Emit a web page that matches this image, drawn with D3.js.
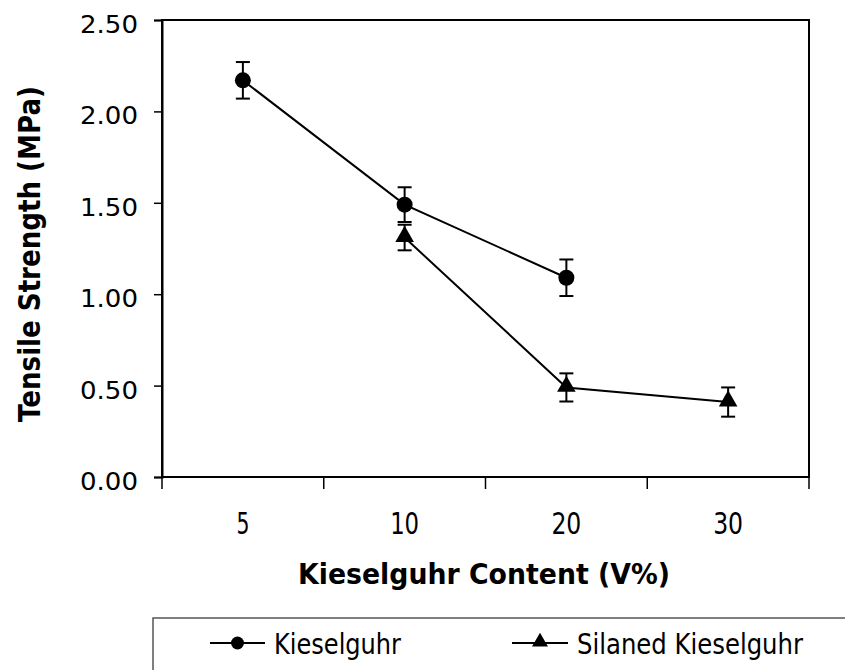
<!DOCTYPE html>
<html>
<head>
<meta charset="utf-8">
<script src="https://cdn.jsdelivr.net/npm/d3@7/dist/d3.min.js"></script>
<style>
  html, body { margin: 0; padding: 0; background: #fff; }
  svg { display: block; }
  text { font-family: "DejaVu Sans", Verdana, sans-serif; fill: #000; }
</style>
</head>
<body>
<svg id="chart" width="845" height="670"></svg>
<script>
// Kieselguhr content categories (V%)
const categories = ["5", "10", "20", "30"];
// Tensile strength (MPa), plain kieselguhr filler
const kieselguhr = [2.17, 1.49, 1.09, null];
const kieselguhrErr = [0.10, 0.095, 0.10, null];
// Tensile strength (MPa), silane-treated kieselguhr filler
const silaned = [null, 1.31, 0.49, 0.41];
const silanedErr = [null, 0.07, 0.077, 0.08];
// Value axis ticks
const yTicks = [0, 0.5, 1.0, 1.5, 2.0, 2.5];
// Condensed widths of category labels
const xLabelWidths = [13, 29, 30, 30];

const svg = d3.select("#chart");
const plot = { left: 162, right: 809, top: 20, bottom: 477 };

const x = d3.scaleBand().domain(categories).range([plot.left, plot.right]).padding(0);
const y = d3.scaleLinear().domain([0, 2.5]).range([plot.bottom, plot.top]);
const cx = c => x(c) + x.bandwidth() / 2;

// Plot area frame
svg.append("rect")
  .attr("x", plot.left).attr("y", plot.top)
  .attr("width", plot.right - plot.left).attr("height", plot.bottom - plot.top)
  .attr("fill", "none").attr("stroke", "#000").attr("stroke-width", 2);

// Value axis
const yAxis = svg.append("g")
  .attr("transform", `translate(${plot.left},0)`)
  .call(d3.axisLeft(y).tickValues(yTicks).tickFormat(d3.format(".2f")).tickSize(8).tickPadding(16));
yAxis.select(".domain").attr("stroke", "#000").attr("stroke-width", 2);
yAxis.selectAll(".tick line").attr("stroke", "#000").attr("stroke-width", 1.5);
yAxis.selectAll(".tick text")
  .attr("font-size", 25).attr("dy", "0.5em")
  .attr("textLength", 58).attr("lengthAdjust", "spacingAndGlyphs")
  .style("font-family", "'DejaVu Sans', Verdana, sans-serif");

// Category axis: ticks sit on band boundaries
const xEdges = categories.map(c => x(c)).concat([x(categories[categories.length - 1]) + x.bandwidth()]);
svg.append("g").selectAll("line").data(xEdges).join("line")
  .attr("x1", d => d).attr("x2", d => d)
  .attr("y1", plot.bottom).attr("y2", plot.bottom + 12)
  .attr("stroke", "#000").attr("stroke-width", 1.5);
svg.append("g").selectAll("text").data(categories).join("text")
  .attr("x", d => cx(d)).attr("y", 534)
  .attr("text-anchor", "middle").attr("font-size", 30)
  .attr("textLength", (d, i) => xLabelWidths[i]).attr("lengthAdjust", "spacingAndGlyphs")
  .text(d => d);

// Axis titles
svg.append("text")
  .attr("x", 484).attr("y", 584)
  .attr("text-anchor", "middle").attr("font-size", 29).attr("font-weight", "bold")
  .attr("textLength", 372).attr("lengthAdjust", "spacingAndGlyphs")
  .text("Kieselguhr Content (V%)");
svg.append("text")
  .attr("transform", "translate(40,254) rotate(-90)")
  .attr("text-anchor", "middle").attr("font-size", 30).attr("font-weight", "bold")
  .attr("textLength", 336).attr("lengthAdjust", "spacingAndGlyphs")
  .text("Tensile Strength (MPa)");

// Series drawing
const triangle = d3.symbol().type(d3.symbolTriangle).size(150);
const line = d3.line()
  .defined(d => d.v != null)
  .x(d => cx(d.c)).y(d => y(d.v));

function drawSeries(values, errs, marker) {
  const pts = categories.map((c, i) => ({ c, v: values[i], e: errs[i] }));
  const g = svg.append("g");
  g.append("path").datum(pts).attr("d", line)
    .attr("fill", "none").attr("stroke", "#000").attr("stroke-width", 2);
  const valid = pts.filter(d => d.v != null);
  // Error bars
  const eb = g.selectAll("g.err").data(valid).join("g").attr("class", "err");
  eb.append("line")
    .attr("x1", d => cx(d.c)).attr("x2", d => cx(d.c))
    .attr("y1", d => y(d.v + d.e)).attr("y2", d => y(d.v - d.e))
    .attr("stroke", "#000").attr("stroke-width", 2);
  [1, -1].forEach(s => {
    eb.append("line")
      .attr("x1", d => cx(d.c) - 7).attr("x2", d => cx(d.c) + 7)
      .attr("y1", d => y(d.v + s * d.e)).attr("y2", d => y(d.v + s * d.e))
      .attr("stroke", "#000").attr("stroke-width", 2);
  });
  // Markers
  if (marker === "circle") {
    g.selectAll("circle").data(valid).join("circle")
      .attr("cx", d => cx(d.c)).attr("cy", d => y(d.v)).attr("r", 8).attr("fill", "#000");
  } else {
    g.selectAll("path.m").data(valid).join("path").attr("class", "m")
      .attr("transform", d => `translate(${cx(d.c)},${y(d.v) - 1})`)
      .attr("d", triangle).attr("fill", "#000");
  }
}
drawSeries(kieselguhr, kieselguhrErr, "circle");
drawSeries(silaned, silanedErr, "triangle");

// Legend
const legend = svg.append("g");
legend.append("rect")
  .attr("x", 153).attr("y", 618).attr("width", 720).attr("height", 80)
  .attr("fill", "#fff").attr("stroke", "#555").attr("stroke-width", 1.5);
const legendItems = [
  { name: "Kieselguhr", marker: "circle", x0: 210, x1: 265, tx: 274, tw: 127 },
  { name: "Silaned Kieselguhr", marker: "triangle", x0: 512, x1: 568, tx: 577, tw: 226 }
];
legendItems.forEach(it => {
  const ly = 643;
  legend.append("line").attr("x1", it.x0).attr("x2", it.x1).attr("y1", ly).attr("y2", ly)
    .attr("stroke", "#000").attr("stroke-width", 2);
  const mx = (it.x0 + it.x1) / 2;
  if (it.marker === "circle") {
    legend.append("circle").attr("cx", mx).attr("cy", ly).attr("r", 6.5).attr("fill", "#000");
  } else {
    legend.append("path").attr("transform", `translate(${mx},${ly - 1})`)
      .attr("d", d3.symbol().type(d3.symbolTriangle).size(110)).attr("fill", "#000");
  }
  legend.append("text").attr("x", it.tx).attr("y", 654).attr("font-size", 29)
    .attr("textLength", it.tw).attr("lengthAdjust", "spacingAndGlyphs")
    .text(it.name);
});
</script>
</body>
</html>
